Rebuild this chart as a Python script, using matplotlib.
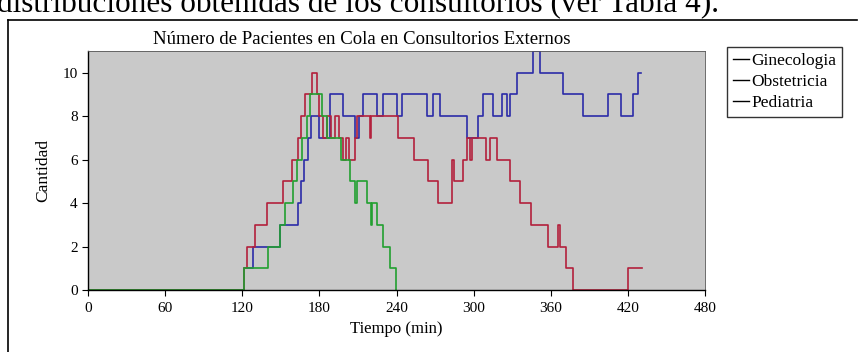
import matplotlib
matplotlib.use("Agg")
import matplotlib.pyplot as plt
from matplotlib.lines import Line2D

# ---- data ----
series_names = ["Ginecologia", "Obstetricia", "Pediatria"]

gine_t = [0, 121, 128.6, 149.4, 163.4, 165.5, 168, 171, 173.5, 180, 188, 198.6, 207.7, 210.5,
          214, 225, 229.5, 240, 244, 263.4, 268.5, 274, 294.6, 303.6, 307.5, 315, 321.8, 326,
          328, 333.5, 346.4, 351.6, 369.8, 385.3, 404.8, 415, 424.2, 427.5, 430]
gine_v = [0, 1, 2, 3, 4, 5, 6, 7, 8, 7, 9, 8, 7, 8,
          9, 8, 9, 8, 9, 8, 9, 8, 7, 8, 9, 8, 9, 8,
          9, 10, 11, 10, 9, 8, 9, 8, 9, 10, 10]

obst_t = [0, 121, 124, 130, 139, 152, 158.5, 163.7, 166, 168.8, 174, 178, 180, 183, 186, 189,
          192, 195, 198, 201, 203, 208, 209.5, 219, 220.5, 241, 254, 264.5, 272, 283, 285,
          292, 295, 297, 298.5, 310, 313, 318, 328, 336, 345, 358, 366, 367, 372, 377.6,
          420, 430.7]
obst_v = [0, 1, 2, 3, 4, 5, 6, 7, 8, 9, 10, 9, 8, 7, 8, 7,
          8, 7, 6, 7, 6, 7, 8, 7, 8, 7, 6, 5, 4, 6, 5,
          6, 7, 6, 7, 6, 7, 6, 5, 4, 3, 2, 3, 2, 1, 0,
          1, 1]

pedi_t = [0, 121, 140.3, 149.4, 153, 159.7, 162.3, 166.2, 170, 172.7, 176.6, 182, 186, 196.6,
          204, 207.7, 209, 216.8, 220, 221, 224.5, 229.8, 235, 239.5]
pedi_v = [0, 1, 2, 3, 4, 5, 6, 7, 8, 9, 9, 8, 7, 6,
          5, 4, 5, 4, 3, 4, 3, 2, 1, 0]

x_ticks = [0, 60, 120, 180, 240, 300, 360, 420, 480]
y_ticks = [0, 2, 4, 6, 8, 10]

title = "Número de Pacientes en Cola en Consultorios Externos"
x_label = "Tiempo (min)"
y_label = "Cantidad"
page_text = "distribuciones obtenidas de los consultorios (ver Tabla 4)."

colors = ["#2b2ba8", "#b3203c", "#22a030"]

plt.rcParams['font.family'] = ['Liberation Serif', 'DejaVu Serif']

W, H = 861, 352
fig = plt.figure(figsize=(W / 100, H / 100), dpi=100)
fig.patch.set_facecolor("white")

# page text (partially cut at the top, as in the scanned page)
fig.text(-0.004, 1 - 12 / H, page_text, fontsize=22.5, va='baseline', ha='left', color='black')

# outer frame of the embedded chart
fig.add_artist(Line2D([8 / W, 8 / W], [0, 1 - 20 / H], transform=fig.transFigure, color='black', lw=1.2))
fig.add_artist(Line2D([8 / W, 857 / W], [1 - 20 / H, 1 - 20 / H], transform=fig.transFigure, color='black', lw=1.2))

ax = fig.add_axes([88 / W, 1 - 290 / H, (705 - 88) / W, (290 - 51) / H])
ax.set_facecolor("#c9c9c9")

for t, v, c, n in zip([gine_t, obst_t, pedi_t], [gine_v, obst_v, pedi_v], colors, series_names):
    ax.step(t, v, where='post', color=c, lw=1.2, label=n)

ax.set_xlim(0, 480)
ax.set_ylim(0, 11)
ax.set_xticks(x_ticks)
ax.set_yticks(y_ticks)
ax.tick_params(axis='both', labelsize=11, direction='out', length=4, width=0.8, color='black')
ax.tick_params(axis='x', pad=5)
for s in ['left', 'bottom']:
    ax.spines[s].set_linewidth(1.0)
for s in ['top', 'right']:
    ax.spines[s].set_linewidth(0.6)
    ax.spines[s].set_color('#555555')

ax.set_xlabel(x_label, fontsize=12, labelpad=4)
ax.set_ylabel(y_label, fontsize=12.5, labelpad=8)
fig.text(362 / W, 1 - 40 / H, title, fontsize=13.5, ha='center', va='center')

handles = [Line2D([0], [0], color='black', lw=1.0) for _ in series_names]
leg = fig.legend(handles, series_names, loc='upper left', bbox_to_anchor=(727 / W, 1 - 47 / H),
                 frameon=True, fancybox=False, fontsize=12.5, handlelength=0.9, handletextpad=0.15,
                 borderpad=0.35, borderaxespad=0, labelspacing=0.28)
leg.get_frame().set_edgecolor('black')
leg.get_frame().set_linewidth(1.0)

fig.savefig("out.png", dpi=100)
